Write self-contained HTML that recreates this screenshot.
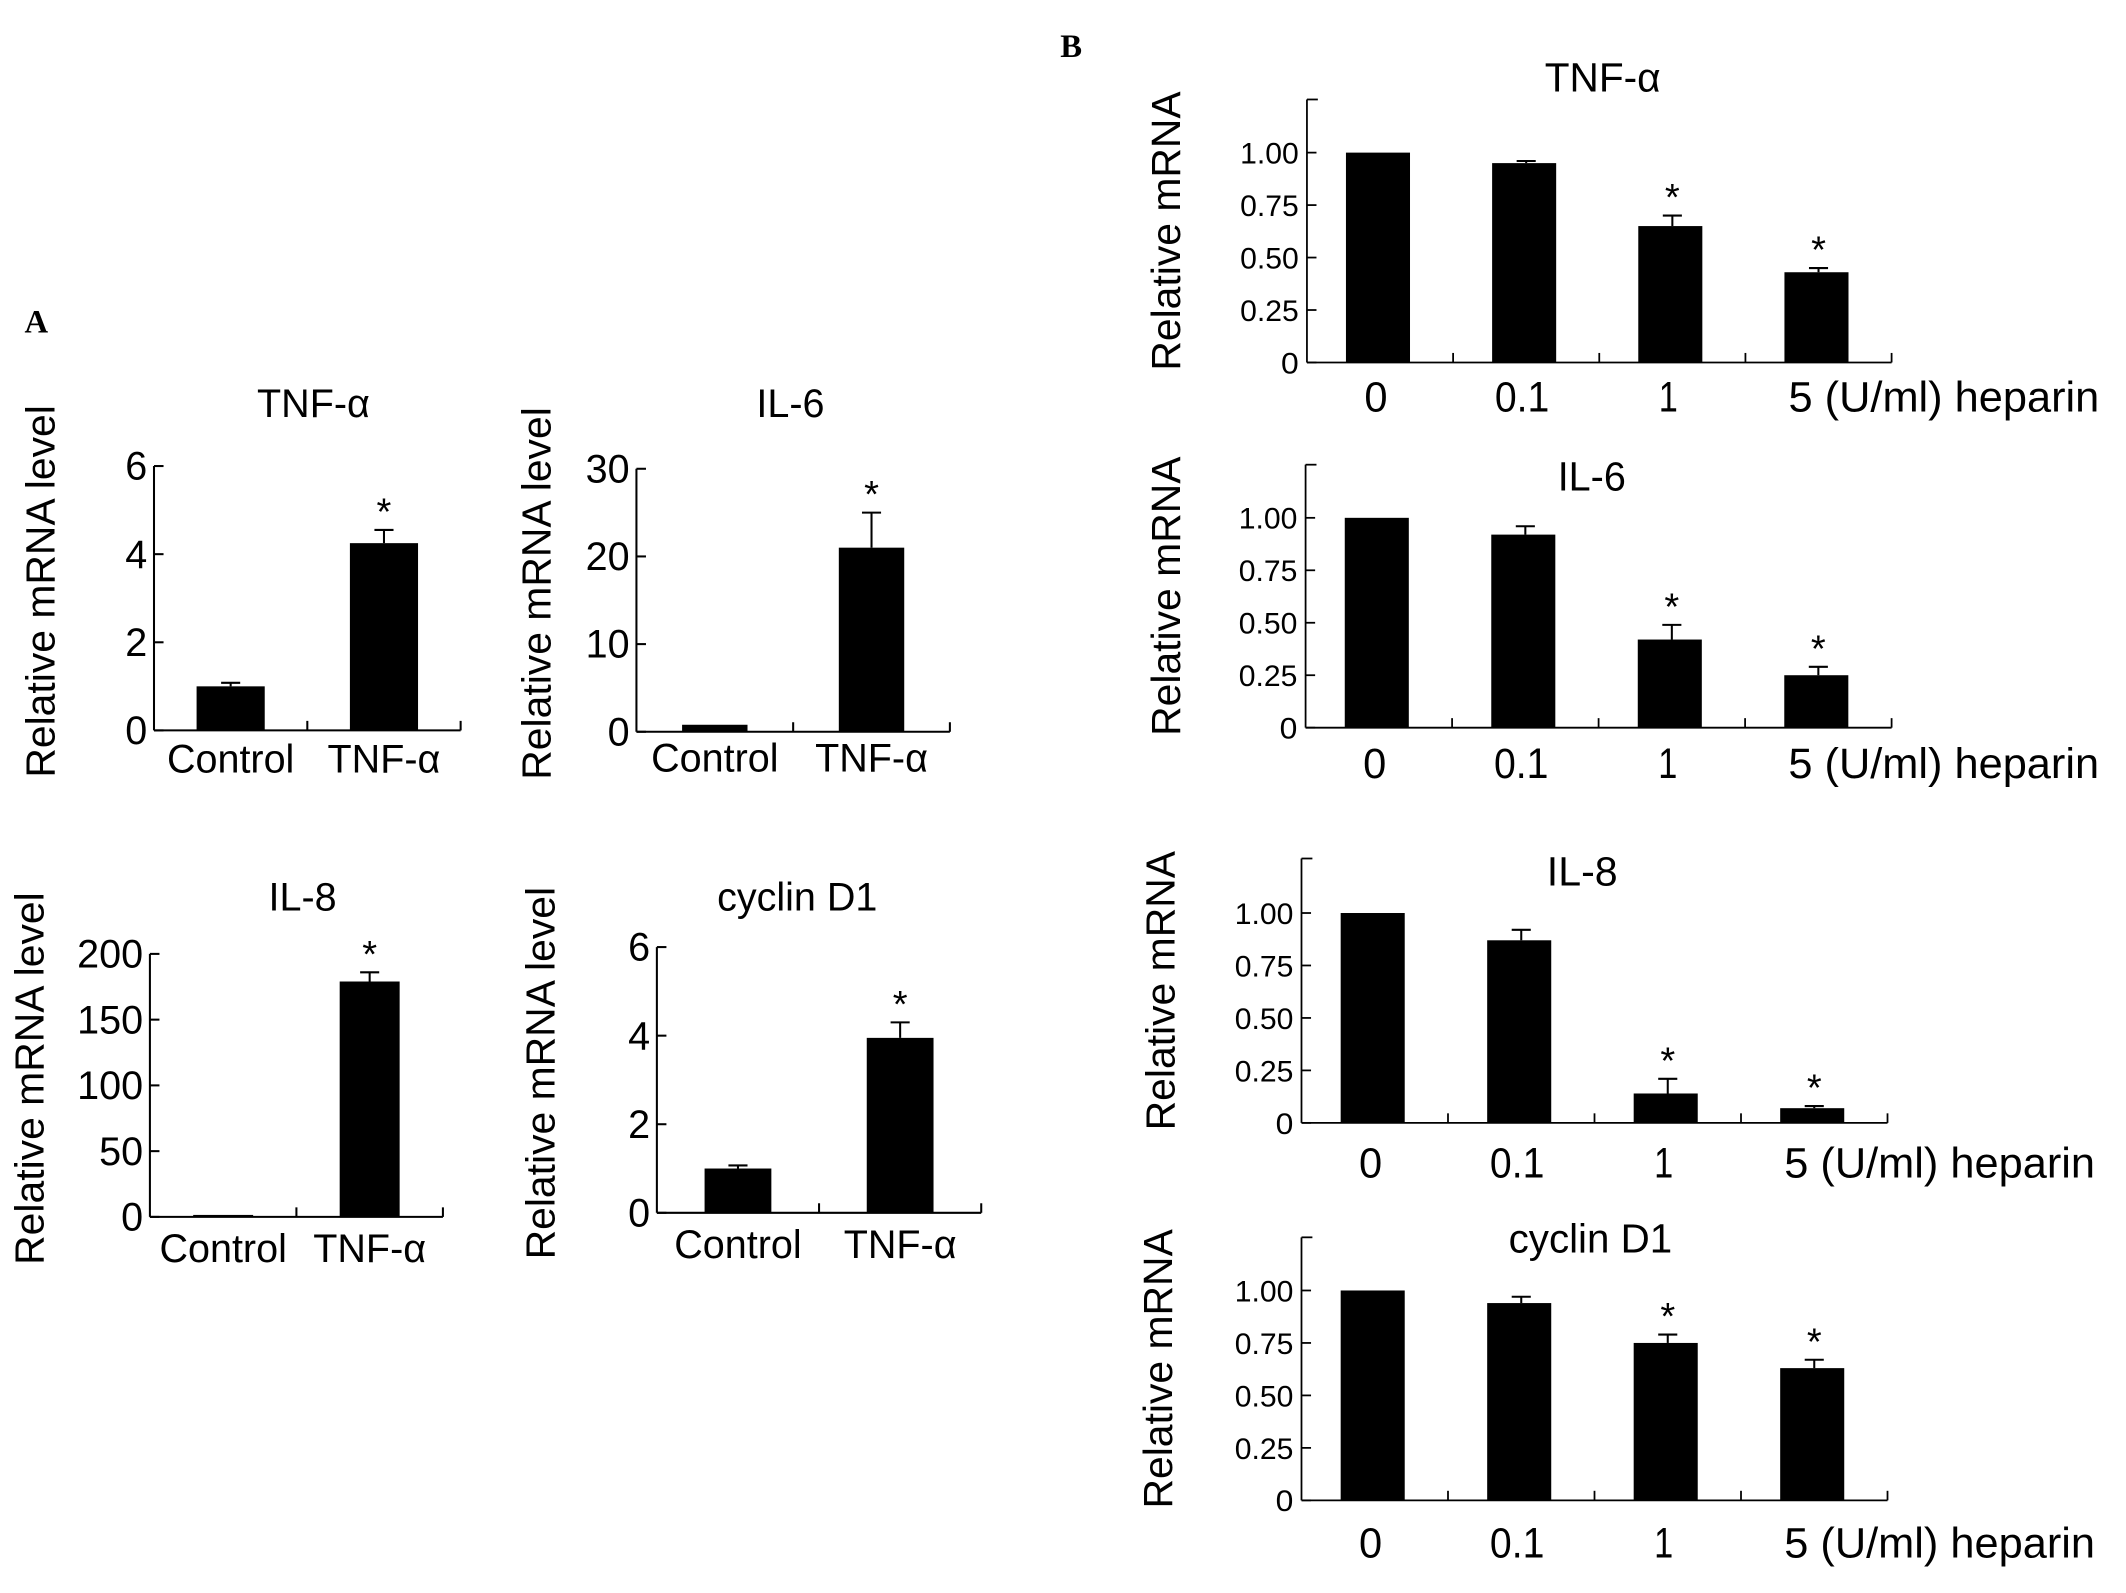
<!DOCTYPE html>
<html><head><meta charset="utf-8"><style>
html,body{margin:0;padding:0;background:#fff;}
svg{display:block;}
text{font-family:"Liberation Sans",sans-serif;fill:#000;}
</style></head><body>
<svg id="fig" width="2126" height="1593" viewBox="0 0 1560 1169" preserveAspectRatio="none" xmlns="http://www.w3.org/2000/svg">
<text x="18" y="244" style="font-family:'Liberation Serif',serif;font-weight:bold;font-size:24px">A</text>
<text x="778" y="42" style="font-family:'Liberation Serif',serif;font-weight:bold;font-size:24px">B</text>
</svg>
<script>
// Panel A data
const aCategories = ["Control", "TNF-α"];
const aTitles = ["TNF-α", "IL-6", "IL-8", "cyclin D1"];
const aValues = [[1.0, 4.25], [0.8, 21], [1.5, 179], [1.0, 3.95]];
const aErrors = [[1.08, 4.55], [0.8, 25], [1.5, 186], [1.07, 4.3]];
const aTicks = [[0, 2, 4, 6], [0, 10, 20, 30], [0, 50, 100, 150, 200], [0, 2, 4, 6]];
const aStars = [[false, true], [false, true], [false, true], [false, true]];
// Panel B data
const bCategories = ["0", "0.1", "1", "5 (U/ml) heparin"];
const bTitles = ["TNF-α", "IL-6", "IL-8", "cyclin D1"];
const bValues = [[1.0, 0.95, 0.65, 0.43], [1.0, 0.92, 0.42, 0.25], [1.0, 0.87, 0.14, 0.07], [1.0, 0.94, 0.75, 0.63]];
const bErrors = [[1.0, 0.96, 0.70, 0.45], [1.0, 0.96, 0.49, 0.29], [1.0, 0.92, 0.21, 0.08], [1.0, 0.97, 0.79, 0.67]];
const bTicks = [0, 0.25, 0.5, 0.75, 1.0];
const bTickLabels = ["0", "0.25", "0.50", "0.75", "1.00"];
const bStars = [[false, false, true, true], [false, false, true, true], [false, false, true, true], [false, false, true, true]];

const NS = "http://www.w3.org/2000/svg";
const svg = document.getElementById("fig");
function mk(tag, attrs, parent) {
  const e = document.createElementNS(NS, tag);
  for (const k in attrs) e.setAttribute(k, attrs[k]);
  (parent || svg).appendChild(e);
  return e;
}
function txt(s, attrs, parent) { const t = mk("text", attrs, parent); t.textContent = s; return t; }
const SQ = "spacingAndGlyphs";

const aLayout = [
  {ax: 113, top: 342, zero: 536, right: 338, bw: 50, tx: 230, ty: 306, yl: 40, xly: 567},
  {ax: 467, top: 344, zero: 537, right: 697, bw: 48, tx: 580, ty: 306, yl: 404, xly: 566},
  {ax: 110, top: 700, zero: 893, right: 325, bw: 44, tx: 222, ty: 668, yl: 32, xly: 926},
  {ax: 482, top: 695, zero: 890, right: 720, bw: 49, tx: 585, ty: 668, yl: 407, xly: 923}
];
aLayout.forEach((L, i) => {
  const g = mk("g", {});
  
  
  const tk = aTicks[i];
  const max = tk[tk.length - 1];
  const y = v => L.zero - (v / max) * (L.zero - L.top);
  const n = aCategories.length;
  const step = (L.right - L.ax) / n;
  const xc = j => L.ax + step * (j + 0.5);
  mk("line", {x1: L.ax, y1: L.top, x2: L.ax, y2: L.zero, stroke: "#000", "stroke-width": 1.5}, g);
  mk("line", {x1: L.ax, y1: L.zero, x2: L.right, y2: L.zero, stroke: "#000", "stroke-width": 1.5}, g);
  for (let j = 1; j <= n; j++) mk("line", {x1: L.ax + step * j, y1: L.zero, x2: L.ax + step * j, y2: L.zero - 7, stroke: "#000", "stroke-width": 1.5}, g);
  tk.forEach(t => {
    mk("line", {x1: L.ax, y1: y(t), x2: L.ax + 7, y2: y(t), stroke: "#000", "stroke-width": 1.5}, g);
    const lab = txt(String(t), {x: L.ax - 5, y: y(t) + 10, "text-anchor": "end", "font-size": 29}, g);
    
    
  });
  aCategories.forEach((c, j) => {
    const v = aValues[i][j], e = aErrors[i][j];
    if (e > v) {
      mk("line", {x1: xc(j), y1: y(e), x2: xc(j), y2: y(v), stroke: "#000", "stroke-width": 1.5}, g);
      mk("line", {x1: xc(j) - 7, y1: y(e), x2: xc(j) + 7, y2: y(e), stroke: "#000", "stroke-width": 1.5}, g);
    }
    const r = mk("rect", {x: xc(j) - L.bw / 2, y: y(v), width: L.bw, height: Math.max(L.zero - y(v), 1.5), fill: "#000"}, g);
    
    
    if (aStars[i][j]) txt("*", {x: xc(j), y: y(e) - 4, "text-anchor": "middle", "font-size": 28}, g);
    const xl = txt(c, {x: xc(j), y: L.xly, "text-anchor": "middle", "font-size": 29}, g);
    
    
  });
  const t = txt(aTitles[i], {x: L.tx, y: L.ty, "text-anchor": "middle", "font-size": 29}, g);
  
  
  const cy = (L.top + L.zero) / 2 - 5;
  const yl = txt("Relative mRNA level", {x: L.yl, y: cy, "text-anchor": "middle", "font-size": 30, transform: `rotate(-90 ${L.yl} ${cy})`}, g);
  
  
});

const bLayout = [
  {ax: 959, top: 73, one: 112, zero: 266, right: 1388, tx: 1176, ty: 67, yl: 866, xly: 302},
  {ax: 958, top: 341, one: 380, zero: 534, right: 1388, tx: 1168, ty: 360, yl: 866, xly: 571},
  {ax: 955, top: 630, one: 670, zero: 824, right: 1385, tx: 1161, ty: 650, yl: 862, xly: 864},
  {ax: 955, top: 908, one: 947, zero: 1101, right: 1385, tx: 1167, ty: 919, yl: 860, xly: 1143}
];
const bLabelW = [17, 40, 14, 228];
bLayout.forEach((L, i) => {
  const g = mk("g", {});
  
  
  const y = v => L.zero - v * (L.zero - L.one);
  const n = bCategories.length;
  const step = (L.right - L.ax) / n;
  const xc = j => L.ax + step * (j + 0.5);
  mk("line", {x1: L.ax, y1: L.top, x2: L.ax, y2: L.zero, stroke: "#000", "stroke-width": 1.3}, g);
  mk("line", {x1: L.ax, y1: L.top, x2: L.ax + 8, y2: L.top, stroke: "#000", "stroke-width": 1.3}, g);
  mk("line", {x1: L.ax, y1: L.zero, x2: L.right, y2: L.zero, stroke: "#000", "stroke-width": 1.3}, g);
  for (let j = 1; j <= n; j++) mk("line", {x1: L.ax + step * j, y1: L.zero, x2: L.ax + step * j, y2: L.zero - 7, stroke: "#000", "stroke-width": 1.3}, g);
  bTicks.forEach((t, k) => {
    mk("line", {x1: L.ax, y1: y(t), x2: L.ax + 7, y2: y(t), stroke: "#000", "stroke-width": 1.3}, g);
    const lab = txt(bTickLabels[k], {x: L.ax - 6, y: y(t) + 8, "text-anchor": "end", "font-size": 22, textLength: bTickLabels[k].length > 1 ? 43 : 13, lengthAdjust: SQ}, g);
    
    
  });
  bCategories.forEach((c, j) => {
    const v = bValues[i][j], e = bErrors[i][j];
    if (e > v) {
      mk("line", {x1: xc(j), y1: y(e), x2: xc(j), y2: y(v), stroke: "#000", "stroke-width": 1.5}, g);
      mk("line", {x1: xc(j) - 7, y1: y(e), x2: xc(j) + 7, y2: y(e), stroke: "#000", "stroke-width": 1.5}, g);
    }
    const r = mk("rect", {x: xc(j) - 25, y: y(v), width: 47, height: L.zero - y(v), fill: "#000"}, g);
    
    
    if (bStars[i][j]) txt("*", {x: xc(j), y: y(e) - 4, "text-anchor": "middle", "font-size": 28}, g);
    let xl;
    if (j === n - 1) xl = txt(c, {x: xc(j) - 22, y: L.xly, "text-anchor": "start", "font-size": 31, textLength: bLabelW[j], lengthAdjust: SQ}, g);
    else xl = txt(c, {x: xc(j) - bLabelW[j] / 2 - 3, y: L.xly, "text-anchor": "start", "font-size": 31, textLength: bLabelW[j], lengthAdjust: SQ}, g);
    
    
  });
  const tw = {"TNF-α": 85, "IL-6": 50, "IL-8": 52, "cyclin D1": 120}[bTitles[i]];
  const t = txt(bTitles[i], {x: L.tx - tw / 2, y: L.ty, "text-anchor": "start", "font-size": 30, textLength: tw, lengthAdjust: SQ}, g);
  
  
  const cy = (L.top + L.zero) / 2;
  const yl = txt("Relative mRNA", {x: L.yl, y: cy, "text-anchor": "middle", "font-size": 30, transform: `rotate(-90 ${L.yl} ${cy})`}, g);
  
  
});
</script>
</body></html>
